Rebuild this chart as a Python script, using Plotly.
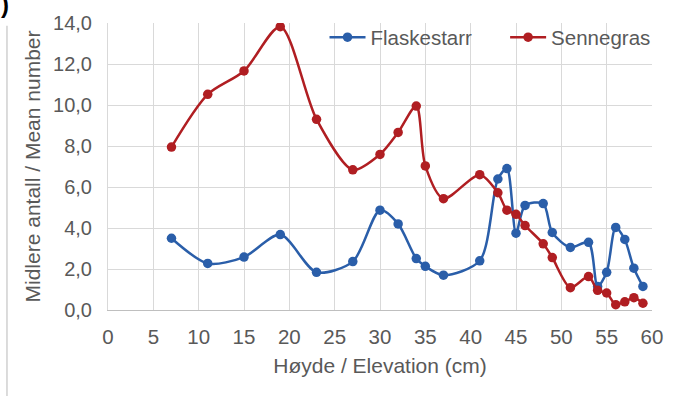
import plotly.graph_objects as go

# Data
elevation = [7, 11, 15, 19, 23, 27, 30, 32, 34, 35, 37, 41, 43, 44, 45, 46, 48, 49, 51, 53, 54, 55, 56, 57, 58, 59]
flaskestarr = [3.5, 2.27, 2.58, 3.68, 1.84, 2.36, 4.87, 4.2, 2.51, 2.13, 1.7, 2.4, 6.39, 6.9, 3.75, 5.1, 5.19, 3.78, 3.05, 3.3, 1.15, 1.84, 4.03, 3.44, 2.04, 1.15]
sennegras = [7.95, 10.52, 11.66, 13.82, 9.3, 6.84, 7.59, 8.66, 9.95, 7.03, 5.43, 6.6, 5.72, 4.87, 4.67, 4.12, 3.23, 2.56, 1.09, 1.63, 0.96, 0.83, 0.26, 0.4, 0.6, 0.33]
series_names = ["Flaskestarr", "Sennegras"]
x_ticks = list(range(0, 61, 5))
y_ticks = [0, 2, 4, 6, 8, 10, 12, 14]
y_ticktext = ["0,0", "2,0", "4,0", "6,0", "8,0", "10,0", "12,0", "14,0"]

BLUE = "#2a5ea9"
RED = "#b01e22"
TXT = "#595959"
FONT = "Liberation Sans, Arial, sans-serif"

fig = go.Figure()
for name, vals, col, lg in [(series_names[0], flaskestarr, BLUE, "legend"),
                            (series_names[1], sennegras, RED, "legend2")]:
    fig.add_trace(go.Scatter(
        x=elevation, y=vals, name=name, mode="lines+markers", legend=lg,
        line=dict(color=col, width=2.5, shape="spline", smoothing=0.8),
        marker=dict(color=col, size=9.5),
    ))

leg_common = dict(orientation="h", yanchor="middle", y=0.95, xanchor="left",
                  bgcolor="rgba(0,0,0,0)", font=dict(size=20.5, color=TXT),
                  itemwidth=36)

fig.update_layout(
    width=681, height=397,
    margin=dict(l=108, r=29, t=18, b=87),
    paper_bgcolor="white", plot_bgcolor="white",
    font=dict(family=FONT, color=TXT, size=20),
    showlegend=True,
    legend=dict(x=0.398, **leg_common),
    legend2=dict(x=0.73, **leg_common),
    xaxis=dict(range=[0, 60], tickvals=x_ticks, showgrid=True, gridcolor="#d9d9d9",
               gridwidth=1, zeroline=False, showline=True, linecolor="#bfbfbf",
               ticks="", ticklabelstandoff=8, tickfont=dict(size=20.5, color=TXT),
               title=dict(text="Høyde / Elevation (cm)", font=dict(size=21, color=TXT), standoff=11)),
    yaxis=dict(range=[0, 14], tickvals=y_ticks, ticktext=y_ticktext, showgrid=True,
               gridcolor="#d9d9d9", gridwidth=1, zeroline=False, showline=True,
               linecolor="#d9d9d9", ticks="", ticklabelstandoff=11,
               tickfont=dict(size=20, color=TXT),
               title=dict(text="Midlere antall / Mean number", font=dict(size=21, color=TXT), standoff=6)),
)

fig.add_annotation(text="<b>)</b>", xref="paper", yref="paper", x=-0.2, y=1.065,
                   xanchor="left", yanchor="middle", showarrow=False,
                   font=dict(size=24, color="black", family=FONT))
fig.add_shape(type="line", xref="paper", yref="paper", x0=-0.1857, x1=-0.1857,
              y0=0.99, y1=-0.3, line=dict(color="#d0d0d0", width=1.5))

fig.write_html("out.html")
